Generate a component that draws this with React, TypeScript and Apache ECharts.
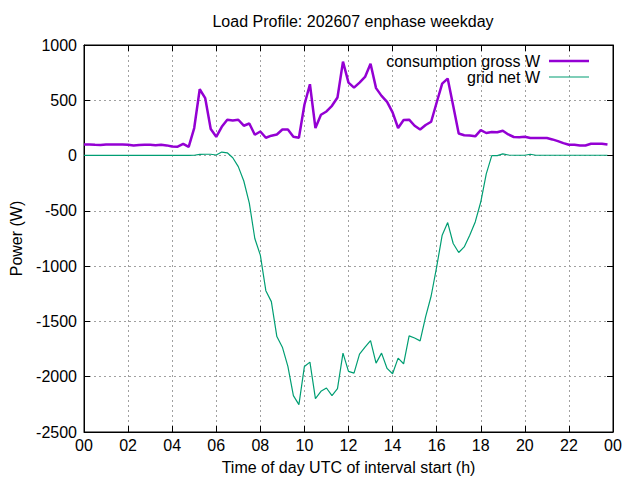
import React, { useEffect, useRef } from 'react';
import * as echarts from 'echarts';

// 15-minute interval starts, hours UTC
const stepHours = 0.25;

const consumptionGross = [
  100, 100, 97, 96, 100, 100, 100, 100, 98, 92, 96, 98, 97, 93, 98, 92,
  82, 80, 105, 78, 249, 600, 519, 240, 170, 260, 324, 318, 324, 270, 290, 188,
  218, 161, 180, 191, 236, 236, 170, 161, 460, 645, 249, 369, 399, 450, 525, 850,
  660, 615, 660, 711, 831, 610, 540, 486, 390, 249, 321, 325, 270, 236, 276, 306,
  480, 651, 696, 450, 200, 184, 182, 174, 230, 204, 214, 211, 225, 191, 168, 165,
  171, 159, 159, 159, 159, 146, 131, 113, 98, 98, 91, 91, 107, 107, 107, 100
];

const gridNet = [
  2, 2, 2, 2, 2, 2, 2, 2, 2, 2, 2, 2, 2, 2, 2, 2,
  2, 2, 2, 2, 3, 10, 12, 12, 5, 32, 25, -20, -100, -230, -430, -750,
  -900, -1222, -1321, -1637, -1733, -1907, -2171, -2252, -1907, -1868, -2198, -2132, -2102, -2171, -2108, -1787,
  -1952, -1967, -1796, -1733, -1673, -1877, -1787, -1925, -1973, -1832, -1883, -1631, -1650, -1676, -1457, -1270,
  -1006, -720, -606, -795, -877, -826, -720, -600, -420, -165, 0, 0, 15, 5, 3, 3,
  3, 12, 3, 3, 3, 3, 3, 3, 3, 3, 3, 3, 3, 3, 3, 3
];

const FONT = '"Liberation Sans", Arial, sans-serif';
const PURPLE = '#9400d3';
const GREEN = '#009e73';

const App: React.FC = () => {
  const chartRef = useRef<HTMLDivElement>(null);

  useEffect(() => {
    if (!chartRef.current) return;
    const chart = echarts.init(chartRef.current, undefined, { renderer: 'svg' });

    const hourLabel = (v: number) => String(Math.round(v) % 24).padStart(2, '0');
    const tick = { show: true, inside: true, length: 6, lineStyle: { color: '#000' } };
    const dashed = { show: true, lineStyle: { color: '#a0a0a0', type: [2, 3] as number[], width: 1 } };
    const txt = { fontFamily: FONT, fontSize: 16, color: '#000' };

    chart.setOption({
      animation: false,
      textStyle: { fontFamily: FONT },
      title: {
        text: 'Load Profile: 202607 enphase weekday',
        left: 348,
        top: 8,
        textAlign: 'center',
        textStyle: { ...txt, fontWeight: 'normal' }
      },
      legend: [
        {
          data: ['consumption gross W'],
          right: 46,
          top: 48,
          align: 'right',
          icon: 'rect',
          itemWidth: 40,
          itemHeight: 2.5,
          textStyle: { ...txt, padding: [0, 4, 0, 0] }
        },
        {
          data: ['grid net W'],
          right: 46,
          top: 64,
          align: 'right',
          icon: 'rect',
          itemWidth: 40,
          itemHeight: 1.2,
          textStyle: { ...txt, padding: [0, 4, 0, 0] }
        }
      ],
      grid: {
        left: 82,
        right: 27,
        top: 45,
        bottom: 48,
        show: true,
        borderColor: '#000',
        borderWidth: 1
      },
      xAxis: [
        {
          type: 'value',
          min: 0,
          max: 24,
          interval: 2,
          name: 'Time of day UTC of interval start (h)',
          nameLocation: 'middle',
          nameGap: 27,
          nameTextStyle: txt,
          axisLine: { show: true, onZero: false, lineStyle: { color: '#000' } },
          axisTick: tick,
          axisLabel: { ...txt, formatter: hourLabel, margin: 5 },
          splitLine: dashed
        },
        {
          type: 'value',
          position: 'top',
          min: 0,
          max: 24,
          interval: 2,
          axisLine: { show: true, onZero: false, lineStyle: { color: '#000' } },
          axisTick: tick,
          axisLabel: { show: false },
          splitLine: { show: false }
        }
      ],
      yAxis: [
        {
          type: 'value',
          min: -2500,
          max: 1000,
          interval: 500,
          name: 'Power (W)',
          nameLocation: 'middle',
          nameRotate: 90,
          nameGap: 60,
          nameTextStyle: txt,
          axisLine: { show: true, onZero: false, lineStyle: { color: '#000' } },
          axisTick: tick,
          axisLabel: { ...txt, formatter: (v: number) => String(v), margin: 7 },
          splitLine: dashed
        },
        {
          type: 'value',
          position: 'right',
          min: -2500,
          max: 1000,
          interval: 500,
          axisLine: { show: true, onZero: false, lineStyle: { color: '#000' } },
          axisTick: tick,
          axisLabel: { show: false },
          splitLine: { show: false }
        }
      ],
      series: [
        {
          name: 'consumption gross W',
          type: 'line',
          symbol: 'none',
          data: consumptionGross.map((v, i) => [i * stepHours, v]),
          lineStyle: { color: PURPLE, width: 2.5 },
          itemStyle: { color: PURPLE },
          z: 3
        },
        {
          name: 'grid net W',
          type: 'line',
          symbol: 'none',
          data: gridNet.map((v, i) => [i * stepHours, v]),
          lineStyle: { color: GREEN, width: 1.2 },
          itemStyle: { color: GREEN },
          z: 2
        }
      ]
    });

    return () => {
      chart.dispose();
    };
  }, []);

  return (
    <div
      ref={chartRef}
      style={{ position: 'fixed', left: 0, top: 0, width: 640, height: 480, background: '#fff' }}
    />
  );
};

export default App;
